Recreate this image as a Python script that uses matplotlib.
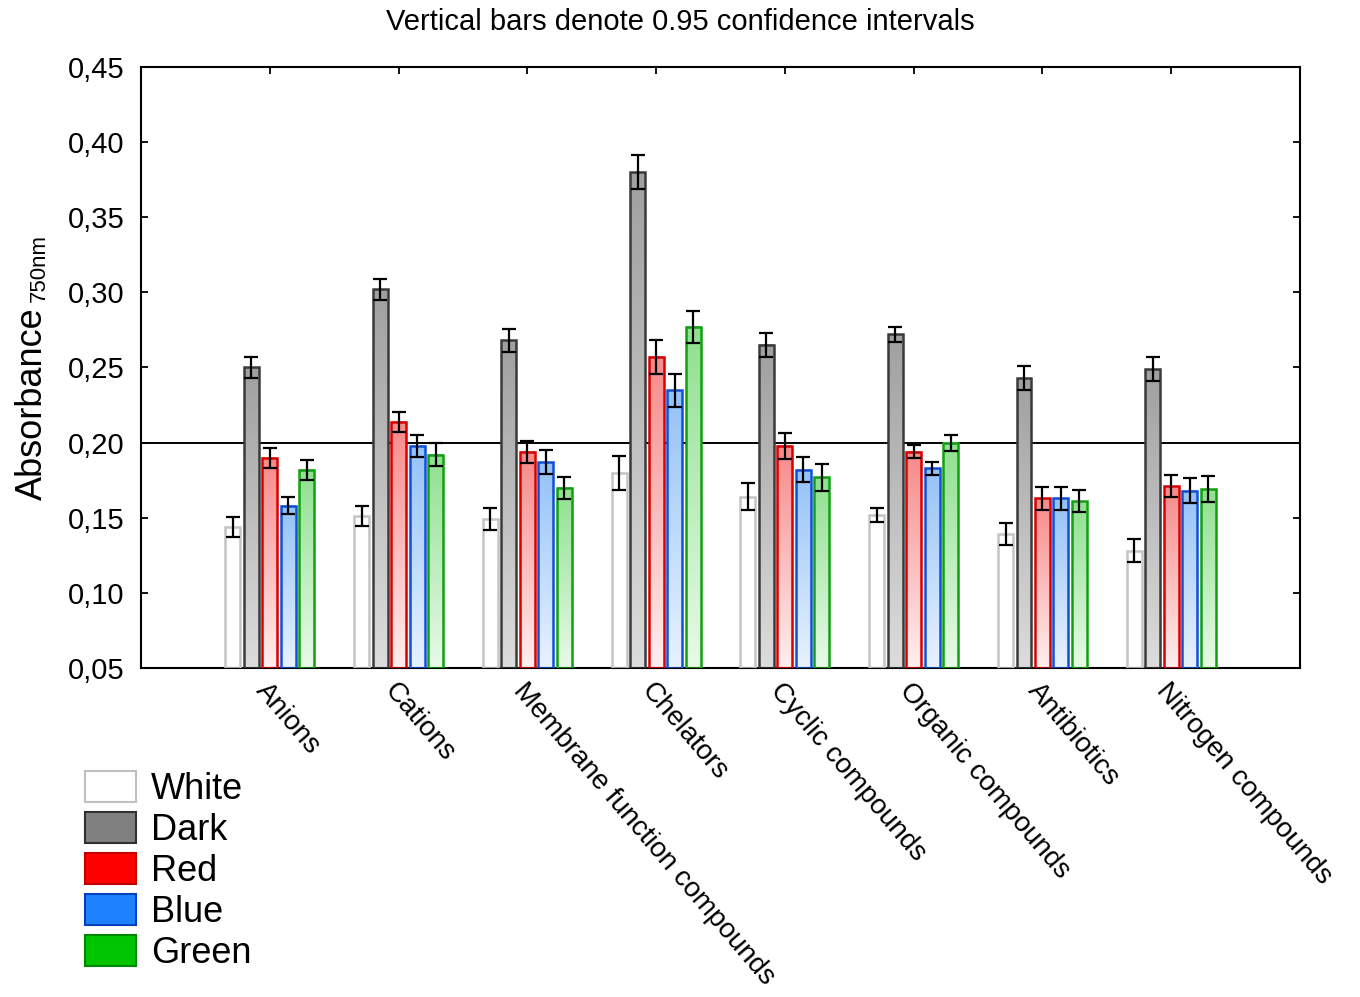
import matplotlib.pyplot as plt
import numpy as np
from matplotlib.patches import Patch
from matplotlib.colors import to_rgb

plt.rcParams['font.family'] = ['Liberation Sans', 'DejaVu Sans']

categories = ['Anions', 'Cations', 'Membrane function compounds', 'Chelators',
              'Cyclic compounds', 'Organic compounds', 'Antibiotics', 'Nitrogen compounds']
series = ['White', 'Dark', 'Red', 'Blue', 'Green']

white = [0.144, 0.151, 0.149, 0.180, 0.164, 0.152, 0.139, 0.128]
dark = [0.250, 0.302, 0.268, 0.380, 0.265, 0.272, 0.243, 0.249]
red = [0.190, 0.214, 0.194, 0.257, 0.198, 0.194, 0.163, 0.171]
blue = [0.158, 0.198, 0.187, 0.235, 0.182, 0.183, 0.163, 0.168]
green = [0.182, 0.192, 0.170, 0.277, 0.177, 0.200, 0.161, 0.169]

white_err = [0.0067, 0.0067, 0.0073, 0.0113, 0.009, 0.0047, 0.0073, 0.0077]
dark_err = [0.0073, 0.007, 0.0077, 0.0113, 0.008, 0.005, 0.0077, 0.0077]
red_err = [0.0067, 0.0067, 0.0073, 0.011, 0.0087, 0.0043, 0.0077, 0.0073]
blue_err = [0.0057, 0.0073, 0.008, 0.011, 0.0083, 0.0043, 0.0077, 0.0083]
green_err = [0.0067, 0.0075, 0.0073, 0.0107, 0.009, 0.0053, 0.0073, 0.0087]

values = [white, dark, red, blue, green]
errors = [white_err, dark_err, red_err, blue_err, green_err]

# top / bottom of the gradient fill, edge colour, legend colour
fill_top = ['#ffffff', '#a0a0a0', '#f78a8a', '#94c2f7', '#8fe08f']
fill_bot = ['#ffffff', '#dcdcdc', '#ffeeee', '#e8f2ff', '#e8fae8']
edges = ['#c4c4c4', '#3a3a3a', '#d80000', '#1050d8', '#10a010']
leg_face = ['#ffffff', '#808080', '#ff0000', '#1e82ff', '#00c400']
leg_edge = ['#c0c0c0', '#303030', '#c00000', '#0040c0', '#008800']

fig = plt.figure(figsize=(13.6, 9.97), dpi=100)
ax = fig.add_axes([0.1037, 0.330, 0.8522, 0.6028])

x = np.arange(len(categories))
pitch = 0.1435
width = 0.116
ymin = 0.05

for i, (vals, errs) in enumerate(zip(values, errors)):
    pos = x + (i - 2) * pitch
    c1 = np.array(to_rgb(fill_bot[i]))
    c2 = np.array(to_rgb(fill_top[i]))
    t = np.linspace(0, 1, 64)[:, None]
    grad = (c1 * (1 - t) + c2 * t)[:, None, :]
    for p, v in zip(pos, vals):
        ax.imshow(grad, extent=[p - width / 2, p + width / 2, ymin, v],
                  origin='lower', aspect='auto', zorder=2, interpolation='bilinear')
    ax.bar(pos, np.array(vals) - ymin, width, bottom=ymin, facecolor='none',
           edgecolor=edges[i], linewidth=1.8, zorder=3)
    ax.errorbar(pos, vals, yerr=errs, fmt='none', ecolor='black',
                elinewidth=1.6, capsize=4.8, capthick=1.6, zorder=4)

ax.axhline(0.20, color='black', linewidth=1.4, zorder=1)

ax.set_xlim(-1, 8)
ax.set_ylim(0.05, 0.45)
ax.set_yticks(np.arange(0.05, 0.451, 0.05))
ax.set_yticklabels([('%.2f' % v).replace('.', ',') for v in np.arange(0.05, 0.451, 0.05)],
                   fontsize=21)
ax.set_xticks(x)
ax.set_xticklabels(categories, rotation=-49.5, ha='left', va='top',
                   rotation_mode='anchor', fontsize=20)
ax.tick_params(axis='both', direction='in', top=True, right=True, length=5, width=1.3)
ax.tick_params(axis='x', pad=7)
ax.tick_params(axis='y', pad=12)
for s in ax.spines.values():
    s.set_linewidth(1.5)

fig.text(0.5, 0.978, 'Vertical bars denote 0.95 confidence intervals',
         ha='center', va='center', fontsize=21)
fig.text(0.031, 0.498, 'Absorbance', rotation=90, rotation_mode='anchor',
         ha='left', va='baseline', fontsize=26)
fig.text(0.033, 0.697, '750nm', rotation=90, rotation_mode='anchor',
         ha='left', va='baseline', fontsize=16)

handles = [Patch(facecolor=f, edgecolor=e, linewidth=1.5) for f, e in zip(leg_face, leg_edge)]
fig.legend(handles, series, loc='upper left', bbox_to_anchor=(0.052, 0.241),
           frameon=False, fontsize=26, handlelength=1.42, handleheight=0.92,
           labelspacing=0.15, handletextpad=0.4, borderaxespad=0)

fig.savefig('out.png', dpi=100)
